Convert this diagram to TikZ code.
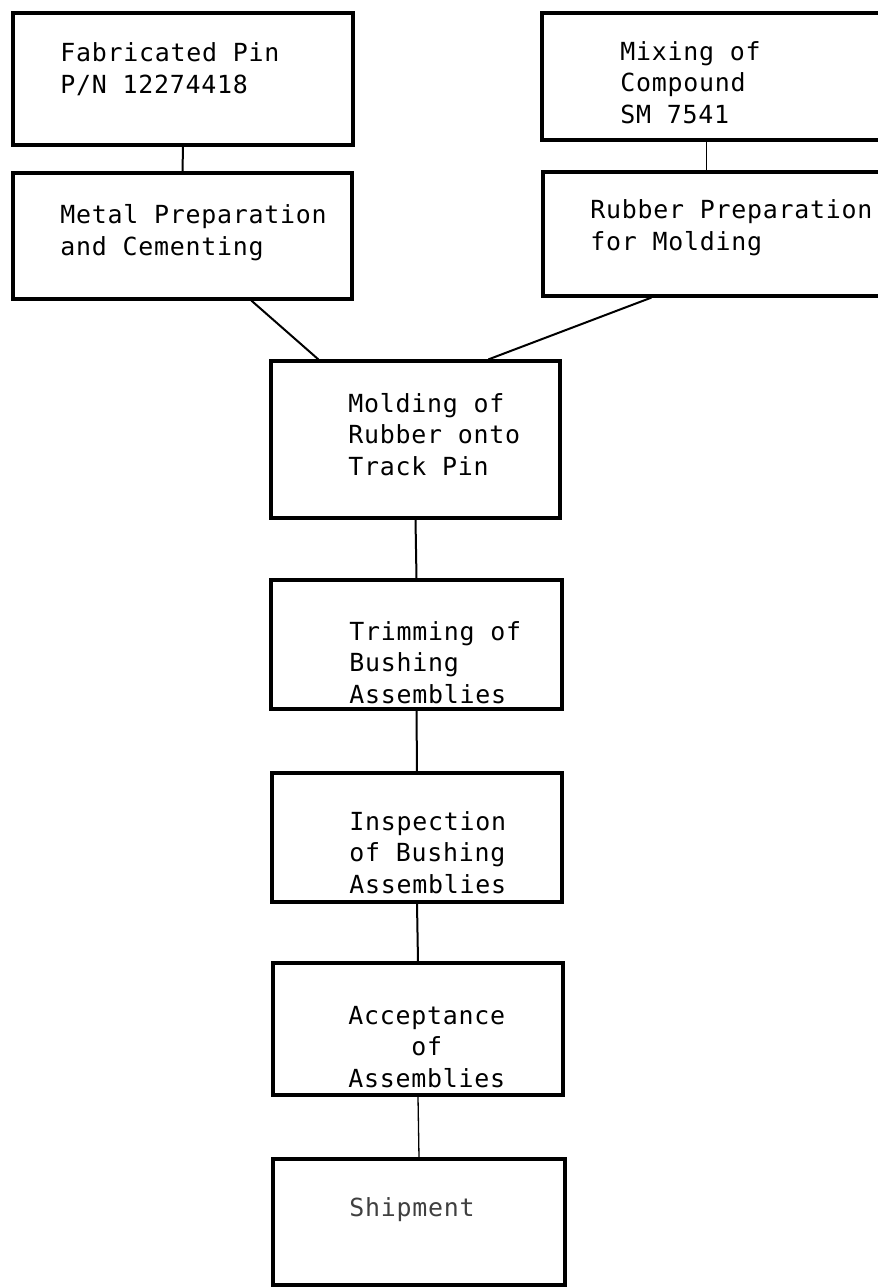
\documentclass[tikz,border=0pt]{standalone}
\usepackage{fontspec}
\setmonofont[LetterSpace=3]{DejaVu Sans Mono}
\usepackage{tikz}
\usetikzlibrary{calc,positioning}

\begin{document}
\begin{tikzpicture}[x=0.5pt,y=-0.5pt,
	box/.style={draw=black,line width=1.6pt,inner sep=0pt,minimum width=#1},
	box/.default=145pt,
	lbl/.style={anchor=base west,inner sep=0pt,align=left,font=\ttfamily\fontsize{12.46pt}{15.75pt}\selectfont},
	link/.style={draw=black,line width=1pt},
	thinlink/.style={draw=black,line width=0.65pt}]
	\clip (0,0) rectangle (878,1287);
	\node [box=170pt,minimum height=66pt] (fab) at (183,79) {};
	\node [box=169.5pt,minimum height=63pt] (metal) at (182.5,236) {};
	\node [box=174pt,minimum height=63.5pt] (mix) at (716,76.5) {};
	\node [box=173.5pt,minimum height=62pt] (rubprep) at (716.5,234) {};
	\node [box=144.5pt,minimum height=78.5pt] (mold) at (415.5,439.5) {};
	\node [box=145.5pt,minimum height=64.5pt] (trim) at (416.5,644.5) {};
	\node [box,minimum height=64.5pt] (insp) at (417,837.5) {};
	\node [box,minimum height=66pt] (accept) at (418,1029) {};
	\node [box=146pt,minimum height=63pt] (ship) at (419,1222) {};
	\node [lbl] (fabtxt) at (60,93) {Fabricated Pin\\P/N 12274418};
	\node [lbl] (metaltxt) at (60,255) {Metal Preparation\\and Cementing};
	\node [lbl] (mixtxt) at (620,123) {Mixing of\\Compound\\SM 7541};
	\node [lbl] (rubtxt) at (590,250) {Rubber Preparation\\for Molding};
	\node [lbl] (moldtxt) at (348,475) {Molding of\\Rubber onto\\Track Pin};
	\node [lbl] (trimtxt) at (349,703) {Trimming of\\Bushing\\Assemblies};
	\node [lbl] (insptxt) at (349,893) {Inspection\\of Bushing\\Assemblies};
	\node [lbl,align=center] (acctxt) at (348,1087) {Acceptance\\of\\Assemblies};
	\node [lbl,text=black!75] (shiptxt) at (349,1216) {Shipment};
	\draw [link] (fab.south) -- (metal.north);
	\draw [thinlink] ([xshift=83pt]mix.south west) -- ([xshift=82.5pt]rubprep.north west);
	\draw [link] ([xshift=120pt]metal.south west) -- ([xshift=24.5pt]mold.north west);
	\draw [link] ([xshift=55pt]rubprep.south west) -- ([xshift=109.5pt]mold.north west);
	\draw [link] (mold.south) -- (trim.north);
	\draw [link] (trim.south) -- (insp.north);
	\draw [link] (insp.south) -- (accept.north);
	\draw [thinlink] (accept.south) -- (ship.north);
\end{tikzpicture}
\end{document}
